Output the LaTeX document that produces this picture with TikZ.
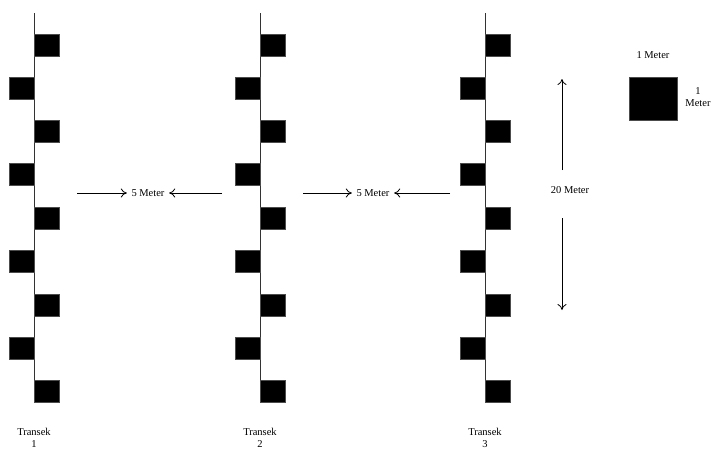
\documentclass[tikz,border=0pt]{standalone}
\usepackage{fontspec}
\setmainfont{Liberation Serif}
\usetikzlibrary{arrows.meta}
\begin{document}
\begin{tikzpicture}[x=1pt,y=-1pt,
  plot/.style={fill=black,draw=black!70,line width=0.4pt,minimum width=25pt,minimum height=22pt,inner sep=0pt,outer sep=0pt},
  tline/.style={draw=black!80,line width=1pt},
  lbl/.style={font=\fontsize{10.5}{12.5}\selectfont,inner sep=1pt,align=center},
  dim/.style={draw=black,line width=0.8pt,-{To[length=6pt,width=9pt]}}]
\useasboundingbox (0,0) rectangle (713,450);
\foreach \t/\x in {1/34,2/260,3/485}{
  \coordinate (top\t) at (\x,13);
  \coordinate (bot\t) at (\x,380);
  \draw[tline] (top\t) -- (bot\t);
  \foreach \k in {0,...,4}{
    \node[plot,anchor=west] (r\t\k) at (\x,{45+86.6*\k}) {};
  }
  \foreach \k in {0,...,3}{
    \node[plot,anchor=east] (l\t\k) at (\x,{88+86.6*\k}) {};
  }
  \node[lbl,anchor=north] (name\t) at (\x,427) {Transek\\\t};
}
% 5 meter between transects
\node[lbl] (d1) at (148,193) {5 Meter};
\coordinate (d1a) at (77,193);
\coordinate (d1b) at (222,193);
\draw[dim,shorten >=3.5pt] (d1a) -- (d1.west);
\draw[dim,shorten >=3.5pt] (d1b) -- (d1.east);
\node[lbl] (d2) at (373,193) {5 Meter};
\coordinate (d2a) at (303,193);
\coordinate (d2b) at (450,193);
\draw[dim,shorten >=3.5pt] (d2a) -- (d2.west);
\draw[dim,shorten >=3.5pt] (d2b) -- (d2.east);
% 20 meter
\node[lbl] (d3) at (570,190) {20 Meter};
\coordinate (d3a) at (562,170);
\coordinate (d3b) at (562,79);
\coordinate (d3c) at (562,218);
\coordinate (d3d) at (562,310);
\draw[dim] (d3a) -- (d3b);
\draw[dim] (d3c) -- (d3d);
% 1 m plot
\node[plot,minimum width=48pt,minimum height=43pt] (sq) at (653,98.5) {};
\node[lbl] (w) at (653,55) {1 Meter};
\node[lbl] (h) at (698,97) {1\\Meter};
\end{tikzpicture}
\end{document}
